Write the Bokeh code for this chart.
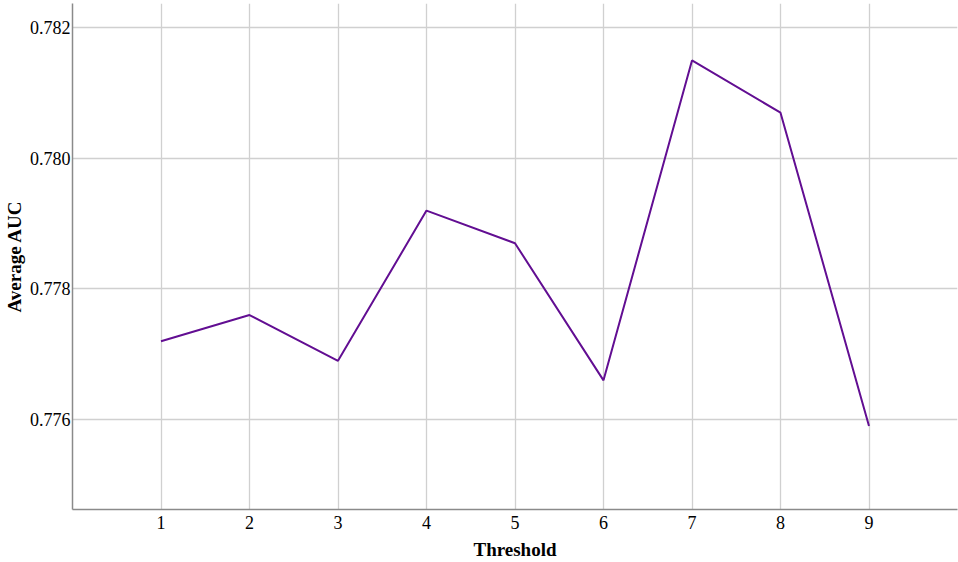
from bokeh.plotting import figure
from bokeh.models import FixedTicker, Range1d, CustomJSTickFormatter
from bokeh.embed import file_html
from bokeh.resources import INLINE

thresholds = [1, 2, 3, 4, 5, 6, 7, 8, 9]
avg_auc = [0.7772, 0.7776, 0.7769, 0.7792, 0.7787, 0.7766, 0.7815, 0.7807, 0.7759]
y_ticks = [0.776, 0.778, 0.780, 0.782]

p = figure(width=958, height=562, output_backend="svg", toolbar_location=None,
           x_range=Range1d(0, 10.0), y_range=Range1d(0.774622, 0.782372),
           min_border_left=0, min_border_bottom=0, min_border_top=3, min_border_right=1)
p.line(thresholds, avg_auc, line_color="#620e92", line_width=2)

p.xaxis.ticker = FixedTicker(ticks=thresholds)
p.yaxis.ticker = FixedTicker(ticks=y_ticks)
p.yaxis.formatter = CustomJSTickFormatter(code="return tick.toFixed(3);")

for ax in (p.xaxis, p.yaxis):
    ax.major_tick_line_color = None
    ax.minor_tick_line_color = None
    ax.major_tick_out = 0
    ax.major_tick_in = 0
    ax.minor_tick_out = 0
    ax.minor_tick_in = 0
    ax.axis_line_color = "#8a8a8a"
    ax.axis_line_width = 1.5
    ax.major_label_text_font = "Liberation Serif"
    ax.major_label_text_font_size = "18px"
    ax.major_label_text_color = "black"
    ax.axis_label_text_font = "Liberation Serif"
    ax.axis_label_text_font_size = "19px"
    ax.axis_label_text_font_style = "bold"
    ax.axis_label_text_color = "black"

p.xaxis.axis_label = "Threshold"
p.yaxis.axis_label = "Average AUC"
p.xaxis.major_label_standoff = 6
p.yaxis.major_label_standoff = 2
p.xaxis.axis_label_standoff = 7
p.yaxis.axis_label_standoff = 2

p.xgrid.grid_line_color = "#d0d0d0"
p.ygrid.grid_line_color = "#d0d0d0"
p.xgrid.grid_line_width = 1.3
p.ygrid.grid_line_width = 1.3
p.outline_line_color = None
p.background_fill_color = "white"

open("out.html", "w").write(file_html(p, INLINE))
